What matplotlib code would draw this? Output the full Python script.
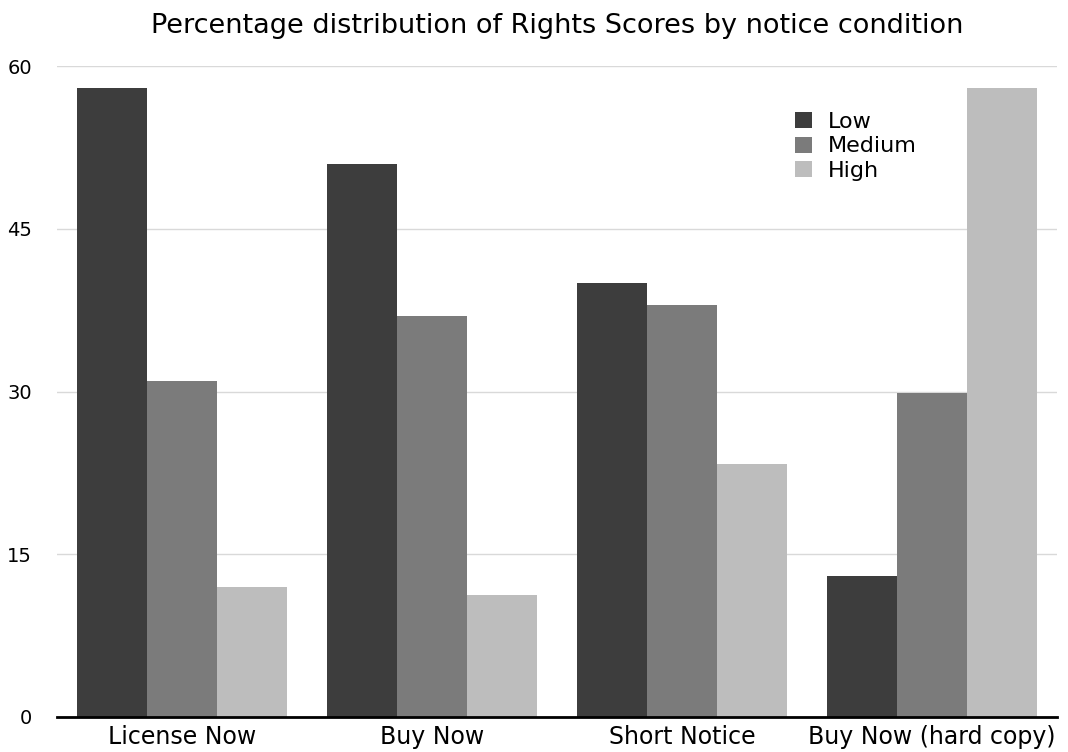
import matplotlib
matplotlib.use("Agg")
import matplotlib.pyplot as plt
import numpy as np

categories = ["License Now", "Buy Now", "Short Notice", "Buy Now (hard copy)"]
series_names = ["Low", "Medium", "High"]
low = [58, 51, 40, 13]
medium = [31, 37, 38, 29.9]
high = [12, 11.2, 23.3, 58]
yticks = [0, 15, 30, 45, 60]

colors = ["#3d3d3d", "#7b7b7b", "#bdbdbd"]

plt.rcParams['font.family'] = ['DejaVu Sans']

fig = plt.figure(figsize=(10.68, 7.52), dpi=100)
ax = fig.add_axes([57/1068, 35/752, 1000/1068, 651/752])

x = np.arange(len(categories))
w = 0.28
for i, (vals, name) in enumerate(zip([low, medium, high], series_names)):
    ax.bar(x + (i - 1) * w, vals, width=w, color=colors[i], label=name, zorder=2)

ax.set_xlim(-0.5, len(categories) - 0.5)
ax.set_ylim(0, 60)
ax.set_yticks(yticks)
ax.set_yticklabels([str(t) for t in yticks], fontsize=14)
ax.set_xticks(x)
ax.set_xticklabels(categories, fontsize=17)
ax.tick_params(axis='y', length=0, pad=18)
ax.tick_params(axis='x', length=0, pad=6)

ax.grid(axis='y', color='#d9d9d9', linewidth=1, zorder=0)
for s in ['top', 'right', 'left']:
    ax.spines[s].set_visible(False)
ax.spines['bottom'].set_color('black')
ax.spines['bottom'].set_linewidth(2)
ax.spines['bottom'].set_zorder(3)

ax.set_title("Percentage distribution of Rights Scores by notice condition",
             fontsize=19.5, pad=24)

leg = ax.legend(loc='upper left', bbox_to_anchor=(0.729, 0.943), frameon=False,
                fontsize=16, handlelength=0.75, handleheight=0.75,
                labelspacing=0.2, handletextpad=0.75, borderaxespad=0)

fig.savefig("out.png", dpi=100)
